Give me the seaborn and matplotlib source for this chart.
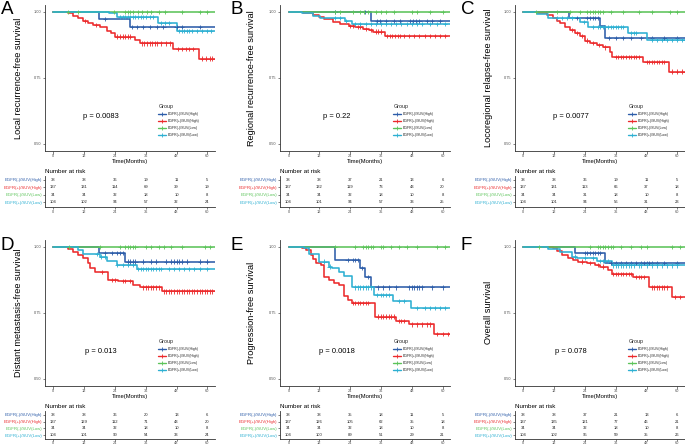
import numpy as np
import pandas as pd
import seaborn as sns
import matplotlib
matplotlib.use("Agg")
import matplotlib.pyplot as plt
from matplotlib.lines import Line2D

# ---------------- data ----------------
groups = ["EGFR(-)/SUV(High)", "EGFR(+)/SUV(High)", "EGFR(-)/SUV(Low)", "EGFR(+)/SUV(Low)"]
colors = ["#2D5DA9", "#EC2A2C", "#5CC45A", "#2DB0D2"]
time_breaks = [0, 12, 24, 36, 48, 60]
y_breaks = [0.50, 0.75, 1.00]

panel_letters = ["A", "B", "C", "D", "E", "F"]
panel_ylabels = ["Local recurrence-free survival", "Regional recurrence-free survival",
                 "Locoregional relapse-free survival", "Distant metastasis-free survival",
                 "Progression-free survival", "Overall survival"]
panel_pvalues = ["0.0083", "0.22", "0.0077", "0.013", "0.0018", "0.078"]

# Panel A: Local recurrence-free survival
A_step_t = [[17.8, 29.9],
            [5.8, 7.8, 9.7, 11.7, 13.6, 15.6, 18.2, 20.8, 22.5, 24.0, 31.8, 33.8, 46.8, 56.8],
            [],
            [21.8, 24.9, 40.9, 48.1]]
A_step_s = [[0.972, 0.941],
            [0.994, 0.985, 0.975, 0.966, 0.956, 0.950, 0.941, 0.928, 0.918, 0.906, 0.893, 0.880, 0.858, 0.823],
            [],
            [0.994, 0.981, 0.958, 0.928]]
A_cens = [[20.1, 30.5, 32.5, 35.0, 37.7, 40.3, 42.9, 48.0, 50.0, 57.0],
          [12.5, 16.5, 25.0, 26.0, 27.0, 28.0, 29.0, 30.0, 34.5, 35.5, 36.5, 37.5, 38.5, 39.5, 40.5, 42.0, 44.0,
           45.5, 48.5, 50.0, 51.5, 53.0, 54.5, 58.0, 59.5, 61.0, 62.0],
          [5.8, 9.7, 23.5, 28.0, 29.0, 30.0, 31.0, 33.0, 34.5, 36.5, 38.0, 41.0, 43.5, 50.0, 57.0, 60.0],
          [26.0, 27.0, 28.0, 29.0, 30.0, 31.0, 32.0, 33.0, 34.0, 35.0, 36.0, 37.5, 39.0, 42.0, 43.5, 45.0,
           49.0, 50.0, 51.0, 52.0, 53.0, 54.0, 56.0, 58.0, 60.0, 61.5]]
A_risk = [[38, 38, 36, 19, 11, 5], [137, 131, 114, 69, 39, 19], [34, 34, 32, 18, 10, 8], [104, 102, 94, 57, 32, 24]]

# Panel B: Regional recurrence-free survival
B_step_t = [[32.1],
            [5.8, 9.7, 11.7, 13.9, 17.5, 20.1, 23.4, 26.0, 29.2, 31.2, 33.1, 37.7],
            [],
            [5.2, 9.7, 12.3, 22.1, 24.7]]
B_step_s = [[0.964],
            [0.996, 0.987, 0.979, 0.971, 0.962, 0.953, 0.947, 0.943, 0.936, 0.931, 0.925, 0.907],
            [],
            [0.994, 0.985, 0.975, 0.966, 0.953]]
B_cens = [[18.0, 29.9, 34.4, 35.7, 38.0, 41.0, 43.5, 47.5, 48.5, 49.5, 51.0, 53.9, 56.0, 59.0],
          [24.0, 25.0, 27.0, 28.0, 30.0, 32.0, 34.0, 35.0, 36.0, 38.5, 39.5, 40.5, 41.5, 42.5, 43.5, 45.0,
           47.0, 49.0, 51.0, 53.0, 55.0, 57.0, 59.0, 61.0],
          [18.0, 20.0, 25.0, 28.0, 29.5, 31.0, 34.0, 36.0, 38.0, 41.0, 48.0, 50.0, 55.0, 60.0],
          [18.0, 20.0, 22.5, 26.0, 28.0, 30.0, 32.0, 34.0, 36.0, 38.0, 40.0, 42.0, 44.0, 46.0, 48.0, 50.0,
           52.0, 55.0, 58.0, 61.0]]
B_risk = [[38, 38, 37, 21, 13, 6], [137, 132, 119, 73, 43, 20], [34, 34, 32, 18, 10, 8], [104, 101, 94, 57, 33, 25]]

# Panel C: Locoregional relapse-free survival
C_step_t = [[17.8, 29.9, 31.8],
            [5.8, 9.1, 11.7, 13.0, 14.3, 16.2, 18.2, 20.1, 22.1, 24.0, 26.0, 28.6, 31.2, 33.8, 34.4, 46.8, 56.9],
            [],
            [5.2, 9.7, 22.1, 25.3, 40.9, 48.1]]
C_step_s = [[0.975, 0.946, 0.902],
            [0.996, 0.987, 0.975, 0.966, 0.956, 0.943, 0.931, 0.918, 0.908, 0.891, 0.881, 0.874, 0.865, 0.849,
             0.828, 0.811, 0.774],
            [],
            [0.991, 0.975, 0.962, 0.943, 0.918, 0.893]]
C_cens = [[21.0, 25.0, 26.0, 27.0, 28.0, 29.0, 33.5, 36.0, 39.0, 42.0, 46.0, 50.0, 55.0, 60.0],
          [19.0, 21.0, 23.0, 25.0, 27.0, 29.5, 32.0, 36.0, 37.0, 38.0, 39.0, 40.0, 41.0, 42.0, 43.0, 44.0,
           45.0, 48.0, 49.0, 50.0, 51.0, 52.0, 53.0, 54.0, 55.0, 58.0, 60.0, 62.0],
          [5.0, 13.0, 18.0, 22.0, 25.0, 26.0, 27.0, 28.0, 29.0, 30.0, 31.0, 34.0, 39.0, 45.0, 50.0, 57.0, 60.0],
          [13.0, 15.0, 17.0, 19.0, 23.5, 27.0, 29.0, 30.0, 31.0, 32.0, 33.0, 34.0, 35.0, 36.0, 37.0, 38.0,
           39.0, 42.0, 43.0, 44.0, 50.0, 52.0, 54.0, 56.0, 58.0, 60.0, 62.0]]
C_risk = [[38, 38, 36, 19, 11, 5], [137, 131, 113, 66, 37, 18], [34, 34, 31, 18, 10, 8], [104, 101, 94, 56, 31, 23]]

# Panel D: Distant metastasis-free survival
D_step_t = [[17.8, 27.9],
            [5.8, 7.8, 9.7, 11.7, 13.6, 14.3, 16.2, 21.4, 25.3, 31.2, 33.8, 42.2],
            [],
            [9.7, 11.7, 18.2, 20.8, 24.7, 32.5]]
D_step_s = [[0.975, 0.944],
            [0.991, 0.981, 0.969, 0.959, 0.938, 0.921, 0.904, 0.875, 0.869, 0.854, 0.846, 0.831],
            [],
            [0.988, 0.971, 0.963, 0.946, 0.931, 0.916]]
D_cens = [[20.0, 23.0, 25.0, 26.0, 27.0, 29.0, 30.0, 31.0, 32.0, 35.0, 38.0, 40.0, 44.0, 46.0, 47.0, 48.0,
           49.0, 50.0, 52.0, 57.0, 60.0],
          [19.0, 23.0, 24.0, 27.0, 28.0, 30.0, 35.0, 36.0, 37.0, 38.0, 39.0, 40.0, 41.0, 43.0, 44.0, 45.0,
           46.0, 47.0, 48.0, 49.0, 50.0, 51.0, 52.0, 53.0, 54.0, 55.0, 56.0, 57.0, 58.0, 59.0, 60.0, 61.0, 62.0],
          [6.0, 18.0, 26.0, 28.0, 29.0, 30.0, 31.0, 32.0, 36.0, 38.0, 41.0, 43.0, 46.0, 50.0, 59.0, 61.0],
          [17.0, 18.5, 20.0, 25.0, 27.0, 29.0, 31.0, 33.0, 34.0, 35.0, 36.0, 37.0, 38.0, 39.0, 40.0, 41.0,
           42.0, 45.0, 47.0, 49.0, 51.0, 53.0, 55.0, 57.0, 60.0]]
D_risk = [[38, 38, 36, 20, 13, 6], [137, 129, 112, 71, 43, 20], [34, 34, 32, 18, 10, 8], [104, 101, 90, 54, 33, 24]]

# Panel E: Progression-free survival
E_step_t = [[18.1, 27.8, 29.9, 32.1],
            [5.2, 6.8, 8.7, 9.4, 10.6, 12.6, 13.9, 15.8, 17.8, 19.7, 21.7, 23.0, 24.9, 33.6, 41.8, 47.0, 56.8],
            [],
            [6.1, 8.1, 11.9, 15.8, 17.1, 19.7, 21.7, 24.9, 33.4, 40.9, 47.9]]
E_step_s = [[0.950, 0.919, 0.884, 0.846],
            [0.994, 0.986, 0.969, 0.954, 0.938, 0.931, 0.884, 0.875, 0.863, 0.856, 0.815, 0.800, 0.788, 0.736,
             0.719, 0.706, 0.669],
            [],
            [0.994, 0.971, 0.944, 0.925, 0.919, 0.906, 0.888, 0.846, 0.819, 0.794, 0.769]]
E_cens = [[23.0, 25.0, 26.0, 27.0, 28.5, 31.0, 35.0, 37.0, 39.0, 42.0, 47.0, 48.0, 49.0, 50.0, 51.0, 52.0,
           56.0, 60.0],
          [25.0, 26.0, 27.0, 28.0, 29.0, 30.0, 31.0, 35.0, 36.0, 37.0, 38.0, 39.0, 40.0, 41.0, 43.0, 44.0,
           45.0, 48.0, 50.0, 52.0, 54.0, 55.0, 58.0, 60.0, 62.0],
          [18.0, 26.0, 29.0, 30.0, 31.0, 32.0, 33.0, 36.0, 37.0, 40.0, 43.0, 46.0, 50.0, 58.0, 61.0],
          [14.0, 16.0, 26.0, 27.0, 28.0, 29.0, 30.0, 31.0, 32.0, 34.5, 36.0, 37.0, 38.0, 39.0, 43.0, 45.0,
           50.0, 53.0, 55.0, 57.0, 59.0, 61.0]]
E_risk = [[38, 38, 35, 18, 11, 5], [137, 126, 105, 62, 35, 18], [34, 34, 32, 18, 10, 8], [104, 100, 89, 51, 29, 21]]

# Panel F: Overall survival
F_step_t = [[20.1, 31.8],
            [11.7, 13.0, 14.9, 17.5, 19.5, 21.4, 24.7, 27.9, 29.9, 33.1, 34.4, 42.9, 49.1, 57.8],
            [],
            [9.7, 14.3, 18.8, 20.8, 28.6, 34.4]]
F_step_s = [[0.975, 0.938],
            [0.994, 0.984, 0.969, 0.956, 0.950, 0.944, 0.938, 0.931, 0.925, 0.913, 0.896, 0.884, 0.846, 0.809],
            [],
            [0.991, 0.981, 0.963, 0.956, 0.946, 0.929]]
F_cens = [[24.0, 25.0, 26.0, 27.0, 28.0, 29.0, 30.0, 34.0, 36.0, 38.0, 40.0, 42.0, 44.0, 46.0, 47.0, 48.0,
           49.0, 50.0, 52.0, 55.0, 60.0],
          [23.0, 26.0, 29.0, 31.0, 35.0, 36.0, 37.0, 38.0, 39.0, 40.0, 41.0, 42.0, 44.0, 45.0, 46.0, 47.0,
           50.0, 51.0, 52.0, 53.0, 54.0, 55.0, 56.0, 59.0, 61.0],
          [6.0, 26.0, 29.0, 30.0, 31.0, 32.0, 33.0, 34.0, 35.0, 38.0, 42.0, 46.0, 48.0, 58.0, 61.0],
          [20.0, 24.0, 27.0, 30.0, 31.0, 32.0, 33.0, 35.0, 36.0, 37.0, 38.0, 39.0, 40.0, 41.0, 42.0, 43.0,
           45.0, 46.0, 48.0, 50.0, 52.0, 54.0, 56.0, 58.0, 60.0]]
F_risk = [[38, 38, 37, 21, 13, 6], [137, 135, 121, 77, 46, 21], [34, 34, 32, 18, 10, 8], [104, 102, 95, 59, 35, 26]]

panels_step_t = [A_step_t, B_step_t, C_step_t, D_step_t, E_step_t, F_step_t]
panels_step_s = [A_step_s, B_step_s, C_step_s, D_step_s, E_step_s, F_step_s]
panels_cens = [A_cens, B_cens, C_cens, D_cens, E_cens, F_cens]
panels_risk = [A_risk, B_risk, C_risk, D_risk, E_risk, F_risk]

FOLLOW_UP_END = 64.0


def km_frame(step_t, step_s):
    rows = []
    for g, ts, ss in zip(groups, step_t, step_s):
        tt = [0.0] + list(ts) + [FOLLOW_UP_END]
        sv = [1.0] + list(ss) + [ss[-1] if ss else 1.0]
        rows += [(t, s, g) for t, s in zip(tt, sv)]
    return pd.DataFrame(rows, columns=["time", "surv", "group"])


def censor_frame(step_t, step_s, cens):
    rows = []
    for g, ts, ss, cs in zip(groups, step_t, step_s, cens):
        levels = np.array([1.0] + list(ss))
        idx = np.searchsorted(np.array(ts, dtype=float), np.array(cs, dtype=float), side="right")
        rows += [(c, levels[i], g) for c, i in zip(cs, idx)]
    return pd.DataFrame(rows, columns=["time", "surv", "group"])


# ---------------- figure ----------------
sns.set_theme(style="white")
plt.rcParams["font.family"] = ["Liberation Sans", "DejaVu Sans"]

FW, FH = 685, 446
fig = plt.figure(figsize=(FW / 100, FH / 100), dpi=100)
fig.patch.set_facecolor("white")


def rect(left, top, width, height):
    return [left / FW, 1 - (top + height) / FH, width / FW, height / FH]


PX = 2.567                 # pixels per month
XLIM = (-3.2, 62.8)
col_x0 = [53.3, 288.5, 523.3]
row_off = [0, 235]
ylab_x = [18.3, 251.7, 488.5]
letter_x = [0.5, 230.5, 460.5]
# risk table geometry per row: (top px, height px, ylim, tick pad)
table_geom = [(176, 31, (-0.6, 3.53), 1.0), (411, 27.5, (-0.48, 3.58), 0.4)]
AXIS_COL = "#333333"
TICK_COL = "#4D4D4D"

for k in range(6):
    col, row = k % 3, k // 3
    off = row_off[row]
    left = col_x0[col] + XLIM[0] * PX
    width = (XLIM[1] - XLIM[0]) * PX

    # ---- survival curves ----
    ax = fig.add_axes(rect(left, 5.1 + off, width, 145.5))
    df = km_frame(panels_step_t[k], panels_step_s[k])
    sns.lineplot(data=df, x="time", y="surv", hue="group", hue_order=groups, palette=colors,
                 estimator=None, sort=False, drawstyle="steps-post", linewidth=1.15,
                 legend=False, ax=ax)
    cdf = censor_frame(panels_step_t[k], panels_step_s[k], panels_cens[k])
    sns.scatterplot(data=cdf, x="time", y="surv", hue="group", hue_order=groups, palette=colors,
                    marker="+", s=9, linewidth=0.6, legend=False, ax=ax, zorder=3)
    ax.set_xlim(*XLIM)
    ax.set_ylim(0.475, 1.025)
    ax.set_xticks(time_breaks)
    ax.set_yticks(y_breaks)
    ax.set_yticklabels([f"{v:.2f}" for v in y_breaks])
    for s in ["top", "right"]:
        ax.spines[s].set_visible(False)
    for s in ["left", "bottom"]:
        ax.spines[s].set_color(AXIS_COL)
        ax.spines[s].set_linewidth(0.6)
    ax.tick_params(axis="both", length=1.8, width=0.5, pad=1.0, labelsize=2.8,
                   colors=TICK_COL, bottom=True, left=True)
    ax.set_xlabel("Time(Months)", fontsize=4.2, labelpad=0.6, color="black")
    ax.set_ylabel("")
    ax.set_facecolor("white")

    ax.text(18.7, 0.603, f"p = {panel_pvalues[k]}", ha="center", va="center", fontsize=5.4, color="black")

    handles = [Line2D([], [], color=c, lw=1.0, marker="+", markersize=3, markeredgewidth=0.6) for c in colors]
    ax.legend(handles, groups, title="Group", loc="upper left", bbox_to_anchor=(0.668, 0.318),
              frameon=False, fontsize=2.5, title_fontsize=3.9, handlelength=2.3,
              handletextpad=0.3, labelspacing=0.85, borderpad=0.0, borderaxespad=0.0,
              alignment="left")

    fig.text(ylab_x[col] / FW, 1 - (5.1 + off + 145.5 / 2) / FH, panel_ylabels[k], rotation=90,
             ha="center", va="center", fontsize=6.6, color="black")
    fig.text(letter_x[col] / FW, 1 - (1.5 + off) / FH, panel_letters[k], ha="left", va="top",
             fontsize=13.5, color="black")

    # ---- risk table ----
    t_top, t_h, t_ylim, t_pad = table_geom[row]
    tx = fig.add_axes(rect(left, t_top, width, t_h))
    tx.set_xlim(*XLIM)
    tx.set_ylim(*t_ylim)
    row_pos = [3, 2, 1, 0]
    for gi, counts in enumerate(panels_risk[k]):
        for t, n in zip(time_breaks, counts):
            tx.text(t, row_pos[gi], str(n), ha="center", va="center", fontsize=3.0, color="#222222")
    tx.set_xticks(time_breaks)
    tx.set_yticks(row_pos)
    tx.set_yticklabels(groups)
    for lab, c in zip(tx.get_yticklabels(), colors):
        lab.set_color(c)
    for s in ["top", "right"]:
        tx.spines[s].set_visible(False)
    for s in ["left", "bottom"]:
        tx.spines[s].set_color(AXIS_COL)
        tx.spines[s].set_linewidth(0.6)
    tx.tick_params(axis="x", length=1.3, width=0.5, pad=t_pad, labelsize=2.8, colors=TICK_COL, bottom=True)
    tx.tick_params(axis="y", length=1.5, width=0.5, pad=0.8, labelsize=3.1, left=True, color=TICK_COL)
    tx.set_title("Number at risk", loc="left", fontsize=4.5, pad=2.5, color="black")
    tx.set_facecolor("white")

fig.savefig("out.png", dpi=100, facecolor="white")
